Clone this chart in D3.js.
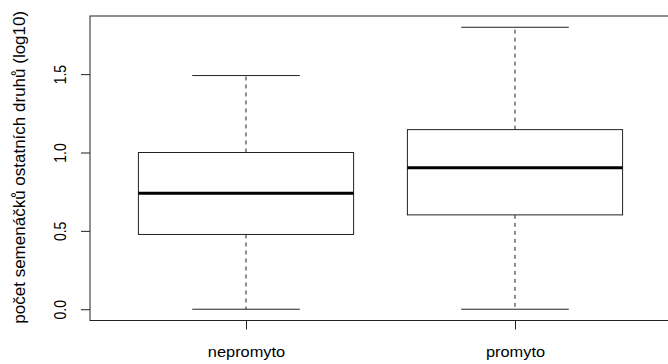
<!DOCTYPE html>
<html>
<head>
<meta charset="utf-8">
<script src="https://cdn.jsdelivr.net/npm/d3@7"></script>
<style>
  html, body { margin: 0; padding: 0; background: #fff; }
  svg { display: block; }
  text { font-family: "Liberation Sans", Arial, sans-serif; fill: #000; }
</style>
</head>
<body>
<svg id="chart" width="668" height="364"></svg>
<script>
// Group names and five-number summaries (log10 counts)
const categories = ["nepromyto", "promyto"];
const whiskerLow = [0.0, 0.0];
const q1 = [0.477, 0.602];
const median = [0.740, 0.903];
const q3 = [1.0, 1.146];
const whiskerHigh = [1.491, 1.799];
const yTicks = [0.0, 0.5, 1.0, 1.5];
const yTitle = "počet semenáčků ostatních druhů (log10)";

const svg = d3.select("#chart");
const plot = { left: 90, top: 16, right: 671, bottom: 320.5 };

// R-style axis ranges: data range padded by 4% on each side
const yMin = d3.min(whiskerLow), yMax = d3.max(whiskerHigh);
const yPad = (yMax - yMin) * 0.04;
const y = d3.scaleLinear().domain([yMin - yPad, yMax + yPad]).range([plot.bottom, plot.top]);
const xPad = categories.length * 0.04;
const x = d3.scaleLinear().domain([0.5 - xPad, categories.length + 0.5 + xPad]).range([plot.left, plot.right]);

const boxHalf = 0.4, capHalf = 0.2;
const data = categories.map((c, i) => ({
  name: c, pos: i + 1,
  lo: whiskerLow[i], q1: q1[i], med: median[i], q3: q3[i], hi: whiskerHigh[i]
}));

const ink = "#222";
const g = svg.append("g");
const groups = g.selectAll("g.box").data(data).join("g").attr("class", "box");

// dashed whiskers
groups.append("line")
  .attr("x1", d => x(d.pos)).attr("x2", d => x(d.pos))
  .attr("y1", d => y(d.q3)).attr("y2", d => y(d.hi))
  .attr("stroke", ink).attr("stroke-width", 1).attr("stroke-dasharray", "4,4");
groups.append("line")
  .attr("x1", d => x(d.pos)).attr("x2", d => x(d.pos))
  .attr("y1", d => y(d.q1)).attr("y2", d => y(d.lo))
  .attr("stroke", ink).attr("stroke-width", 1).attr("stroke-dasharray", "4,4");
// staples
["lo", "hi"].forEach(k => {
  groups.append("line")
    .attr("x1", d => x(d.pos - capHalf)).attr("x2", d => x(d.pos + capHalf))
    .attr("y1", d => y(d[k])).attr("y2", d => y(d[k]))
    .attr("stroke", ink).attr("stroke-width", 1);
});
// boxes
groups.append("rect")
  .attr("x", d => x(d.pos - boxHalf)).attr("width", d => x(d.pos + boxHalf) - x(d.pos - boxHalf))
  .attr("y", d => y(d.q3)).attr("height", d => y(d.q1) - y(d.q3))
  .attr("fill", "#fff").attr("stroke", ink).attr("stroke-width", 1);
// medians
groups.append("line")
  .attr("x1", d => x(d.pos - boxHalf)).attr("x2", d => x(d.pos + boxHalf))
  .attr("y1", d => y(d.med)).attr("y2", d => y(d.med))
  .attr("stroke", "#000").attr("stroke-width", 3);

// plot frame
svg.append("rect")
  .attr("x", plot.left).attr("y", plot.top)
  .attr("width", plot.right - plot.left).attr("height", plot.bottom - plot.top)
  .attr("fill", "none").attr("stroke", ink).attr("stroke-width", 1);

// y axis
const yAxis = svg.append("g").attr("transform", `translate(${plot.left},0)`)
  .call(d3.axisLeft(y).tickValues(yTicks).tickFormat(d3.format(".1f")).tickSize(9).tickSizeOuter(0));
yAxis.select(".domain").remove();
yAxis.selectAll(".tick line").attr("stroke", ink);
yAxis.selectAll(".tick text")
  .attr("x", null).attr("dy", null)
  .attr("transform", "translate(-24,0) rotate(-90) scale(1,1.15)")
  .attr("text-anchor", "middle")
  .style("font-size", "14px")
  .style("font-family", "'Liberation Sans', Arial, sans-serif")
  .attr("fill", "#000");

// x axis
const xAxis = svg.append("g").attr("transform", `translate(0,${plot.bottom})`)
  .call(d3.axisBottom(x).tickValues(data.map(d => d.pos)).tickFormat((d, i) => categories[i]).tickSize(9).tickSizeOuter(0));
xAxis.select(".domain").remove();
xAxis.selectAll(".tick line").attr("stroke", ink);
xAxis.selectAll(".tick text")
  .attr("y", null).attr("dy", null)
  .attr("transform", "translate(0,36) scale(1.13,1)")
  .style("font-size", "14.5px")
  .style("font-family", "'Liberation Sans', Arial, sans-serif")
  .attr("fill", "#000");

// y axis title
svg.append("text")
  .attr("transform", `translate(25,${(plot.top + plot.bottom) / 2 - 1}) rotate(-90)`)
  .attr("text-anchor", "middle")
  .style("font-size", "17px")
  .text(yTitle);
</script>
</body>
</html>
